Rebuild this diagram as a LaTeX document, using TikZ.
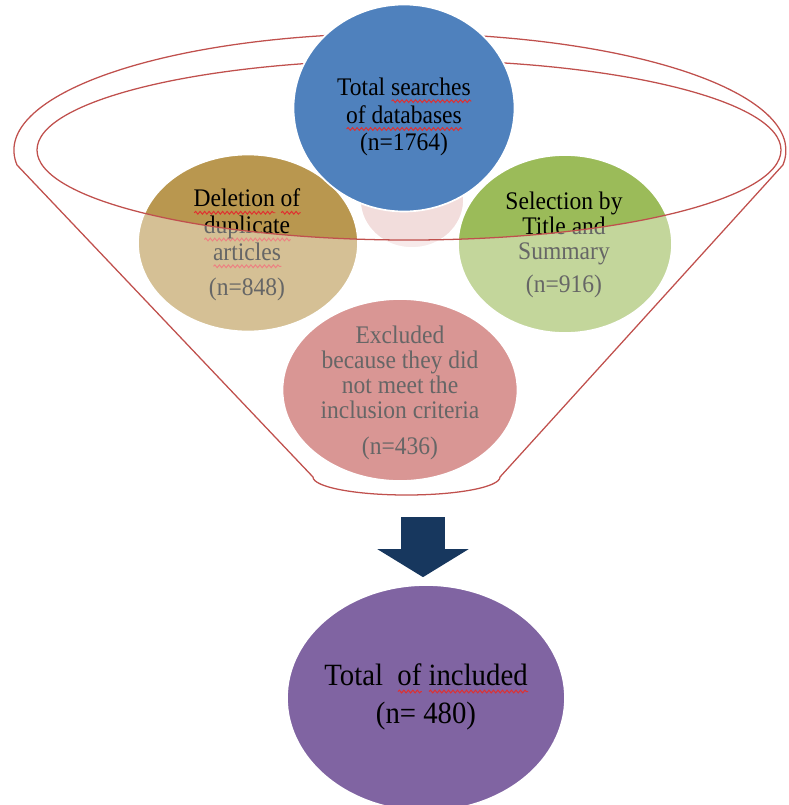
\documentclass[tikz,border=0pt]{standalone}
\usepackage{fontspec}
\setmainfont[FakeStretch=0.93]{Liberation Serif}
\usetikzlibrary{shapes.geometric,arrows.meta,decorations.pathmorphing}

\definecolor{searchblue}{HTML}{4F81BD}
\definecolor{dupbrown}{HTML}{B9974F}
\definecolor{selgreen}{HTML}{9BBB59}
\definecolor{exclpink}{HTML}{C0504D}
\definecolor{palepink}{HTML}{F2DDDC}
\definecolor{rimred}{HTML}{C0504D}
\definecolor{arrownavy}{HTML}{17375E}
\definecolor{incpurple}{HTML}{8064A2}
\definecolor{squigred}{HTML}{E03030}

\newlength\wavelen
\newcommand\redwave[1]{\settowidth\wavelen{#1}\rlap{\tikz[x=1pt, y=1pt, baseline=0pt]\draw[squigred, line width=0.7pt, decorate, decoration={snake, amplitude=1pt, segment length=3.2pt}] (0pt,-4.2pt) -- (\wavelen,-4.2pt);}#1}

\begin{document}
\begin{tikzpicture}[x=0.025cm, y=-0.025cm,
    bub/.style 2 args={ellipse, minimum width=#1*0.025cm, minimum height=#2*0.025cm, inner sep=0pt, draw=white, line width=1.2pt},
    txt/.style={align=center, text=black, font=\fontsize{18}{17.8}\selectfont},
    rim/.style={draw=rimred, line width=0.9pt, line join=round},
    blockarrow/.style={draw=arrownavy, line width=1.075cm, -{Triangle[width=2.25cm, length=0.7cm]}, shorten >=0.175cm}]
                \useasboundingbox (0,0) rectangle (789,805);
                \node[bub={104}{96}, fill=palepink] (shade) at (412,200) {};
                \node[bub={220}{177}, fill=dupbrown] (dup) at (248,243) {};
                \node[txt] (dup-t) at (247,245) {\redwave{Deletion} \redwave{of}\\ \redwave{duplicate}\\ \redwave{articles}\\[6pt] (n=848)};
                \node[bub={214}{178}, fill=selgreen] (sel) at (565,244) {};
                \node[txt] (sel-t) at (564,245) {Selection by\\ Title and\\ Summary\\[6pt] (n=916)};
                \node[bub={235}{182}, fill=exclpink] (excl) at (400,390) {};
                \node[txt, font=\fontsize{18}{17.6}\selectfont] (excl-t) at (400,393) {Excluded\\ because they did\\ not meet the\\ inclusion criteria\\[8pt] (n=436)};
                \fill[white, fill opacity=0.4, even odd rule] (17,165) arc[start angle=172.8, end angle=367.2, x radius=386, y radius=117] -- (500,477) arc[start angle=0, end angle=180, x radius=93.5, y radius=18] -- cycle (409,150) ellipse[x radius=372, y radius=90];
                \draw[rim] (17,165) arc[start angle=172.8, end angle=367.2, x radius=386, y radius=117] -- (500,477) arc[start angle=0, end angle=180, x radius=93.5, y radius=18] -- cycle;
                \draw[rim] (409,150) ellipse[x radius=372, y radius=90];
                \node[bub={221}{207}, fill=searchblue] (search) at (404,108) {};
                \node[txt, font=\fontsize{18}{19.8}\selectfont] (search-t) at (404,117) {Total \redwave{searches}\\ \redwave{of databases}\\ (n=1764)};
                \node[bub={278}{226}, fill=incpurple] (inc) at (426,698) {};
                \node[txt, font=\fontsize{22}{27}\selectfont] (inc-t) at (426,697) {Total \ \redwave{of} \redwave{included}\\ (n= 480)};
                \coordinate (arrowtop) at (423,517);
                \draw[blockarrow] (arrowtop) -- (arrowtop |- inc.north);
\end{tikzpicture}
\end{document}
